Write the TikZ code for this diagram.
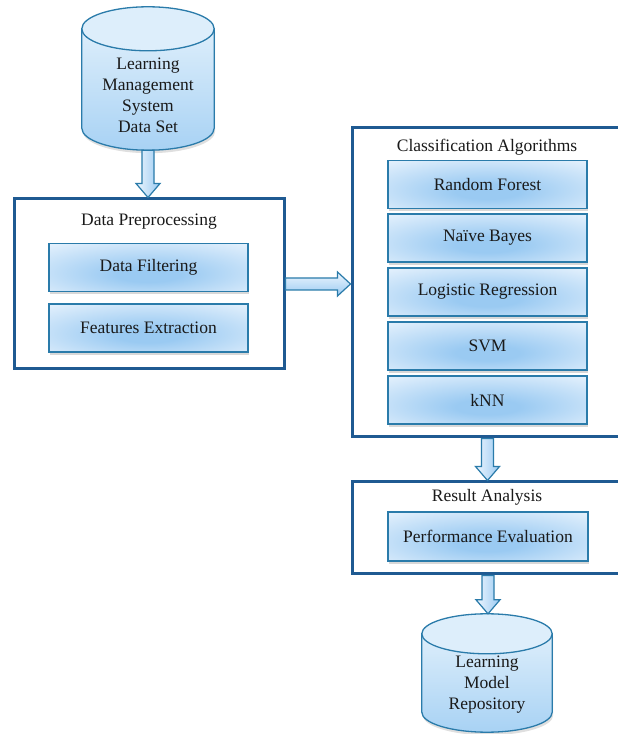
\documentclass[tikz,border=0pt]{standalone}
\usepackage{fontspec}
\setmainfont{Liberation Serif}
\usetikzlibrary{calc,shadows,backgrounds}

\definecolor{frameblue}{HTML}{1F5A92}
\definecolor{edgeblue}{HTML}{2A7BAA}
\definecolor{paleblue}{HTML}{EEF6FE}
\definecolor{midblue}{HTML}{9ACAF2}
\definecolor{drumlow}{HTML}{A8D2F4}
\definecolor{drumhigh}{HTML}{DDEEFB}
\definecolor{inkgrey}{HTML}{1A1A1A}

% soft glow for the stage boxes, strongest a little below the middle
\pgfdeclareradialshading{stageglow}{\pgfpoint{0bp}{-8bp}}{%
  color(0bp)=(midblue); color(8bp)=(midblue); color(42bp)=(paleblue); color(75bp)=(paleblue)}

\tikzset{
  panel/.style={draw=frameblue, line width=3pt, fill=white, inner sep=0pt},
  stage/.style={draw=edgeblue, line width=1.3pt, shading=stageglow,
    minimum width=199pt, minimum height=48pt, inner sep=0pt,
    drop shadow={shadow xshift=1pt, shadow yshift=-3pt, opacity=0.3}},
  caption/.style={inner sep=0pt},
  drum/.style={align=center, inner sep=0pt},
  drumbody/.style={draw=edgeblue, line width=1.3pt, top color=drumhigh, bottom color=drumlow,
    drop shadow={shadow xshift=1pt, shadow yshift=-3pt, opacity=0.25}},
  drumtop/.style={draw=edgeblue, line width=1.3pt, fill=drumhigh},
  flowv/.style={draw=edgeblue, line width=1.2pt, left color=paleblue, right color=midblue},
  flowh/.style={draw=edgeblue, line width=1.2pt, top color=paleblue, bottom color=midblue},
}

% hollow block arrow pointing down, from #1 to #2
\newcommand\flowdown[2]{%
  \path[flowv] let \p1=(#1), \p2=(#2) in
    (\x1-6pt,\y1) -- (\x1-6pt,\y2+14pt) -- (\x1-12pt,\y2+14pt) -- (\x1,\y2)
    -- (\x1+12pt,\y2+14pt) -- (\x1+6pt,\y2+14pt) -- (\x1+6pt,\y1) -- cycle;}
% hollow block arrow pointing right, from #1 to #2
\newcommand\flowright[2]{%
  \path[flowh] let \p1=(#1), \p2=(#2) in
    (\x1,\y1+6pt) -- (\x2-13pt,\y1+6pt) -- (\x2-13pt,\y1+12pt) -- (\x2,\y1)
    -- (\x2-13pt,\y1-12pt) -- (\x2-13pt,\y1-6pt) -- (\x1,\y1-6pt) -- cycle;}
% database drum around node #1: rim centre #2 pt above the node, rim half-height #3 pt
\newcommand\drum[3]{%
  \path[drumbody] let \p1=(#1.south west), \p2=(#1.north east), \n1={(\x2-\x1)/2} in
    (\x1,\y2+#2pt) -- (\x1,\y1+#3pt) arc[start angle=180, end angle=360, x radius=\n1, y radius=#3pt]
    -- (\x2,\y2+#2pt) -- cycle;
  \path[drumtop] let \p1=(#1.south west), \p2=(#1.north east), \n1={(\x2-\x1)/2} in
    ({(\x1+\x2)/2},\y2+#2pt) ellipse[x radius=\n1, y radius=#3pt];}

\begin{document}
\begin{tikzpicture}[x=1pt, y=1pt,
  every node/.style={font=\fontsize{17.5}{21}\selectfont, text=inkgrey}]
  \path[use as bounding box] (0,0) rectangle (618,734);
  \clip (0,0) rectangle (618,734);
  \begin{scope}[on background layer]
    \fill[white] (0,0) rectangle (618,734);
  \end{scope}

  % source data set
  \node[drum, minimum width=132pt, minimum height=109pt] (lms) at (148,638.5)
    {Learning\\Management\\System\\Data Set};
  \begin{scope}[on background layer]
    \drum{lms}{12}{22}
  \end{scope}

  % preprocessing stage
  \node[panel, minimum width=270pt, minimum height=170pt] (prep) at (149,450) {};
  \node[caption] (preptitle) at (149,512) {Data Preprocessing};
  \node[stage] (filt) at (148.5,466.5) {Data Filtering};
  \node[stage] (feat) at (148.5,406) {Features Extraction};

  % classifiers
  \node[panel, minimum width=288pt, minimum height=309pt] (cls) at (496,451.5) {};
  \node[caption] (clstitle) at (487,587) {Classification Algorithms};
  \node[stage] (rf)  at (487.5,549.5) {Random Forest};
  \node[stage] (nb)  at (487.5,496) {Naïve Bayes};
  \node[stage] (lr)  at (487.5,442) {Logistic Regression};
  \node[stage] (svm) at (487.5,388) {SVM};
  \node[stage] (knn) at (487.5,334) {kNN};

  % evaluation
  \node[panel, minimum width=288pt, minimum height=92pt] (res) at (496,206) {};
  \node[caption] (restitle) at (487,237) {Result Analysis};
  \node[stage, minimum width=200pt, minimum height=49pt] (perf) at (488,197.5) {Performance Evaluation};

  % model repository
  \node[drum, minimum width=130pt, minimum height=94pt] (repo) at (487,49)
    {Learning\\Model\\Repository};
  \begin{scope}[on background layer]
    \drum{repo}{4}{20}
  \end{scope}

  % flow between stages
  \flowdown{lms.south}{lms.south |- prep.north}
  \flowright{prep.east}{prep.east -| cls.west}
  \flowdown{knn.south |- cls.south}{knn.south |- res.north}
  \flowdown{perf.south |- res.south}{$(repo.north)+(0,24)$}
\end{tikzpicture}
\end{document}
